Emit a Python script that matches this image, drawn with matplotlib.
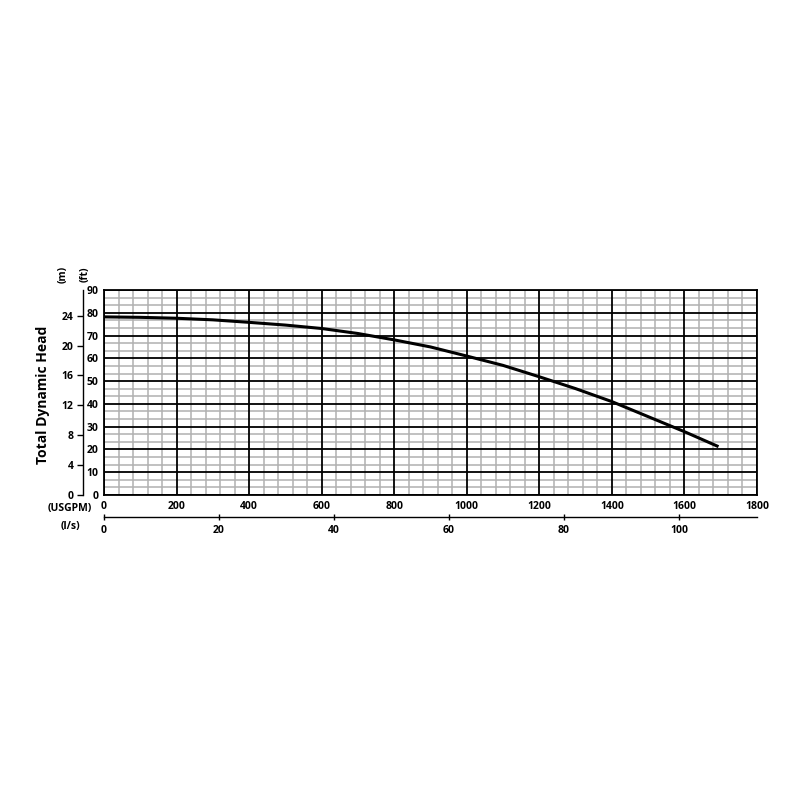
import numpy as np
import matplotlib
matplotlib.use("Agg")
import matplotlib.pyplot as plt
from matplotlib.ticker import FixedLocator

plt.rcParams['font.family'] = ['Open Sans', 'DejaVu Sans']
plt.rcParams['font.weight'] = 'bold'

# pump curve
flow_usgpm = [0, 100, 200, 300, 400, 500, 600, 700, 800, 900, 1000,
              1100, 1200, 1300, 1400, 1500, 1600, 1690]
head_ft = [78.2, 78.0, 77.6, 76.9, 75.8, 74.6, 73.1, 70.9, 68.1, 65.0, 61.0,
           56.9, 51.9, 46.7, 41.0, 34.4, 27.8, 21.5]

usgpm_ticks = [0, 200, 400, 600, 800, 1000, 1200, 1400, 1600, 1800]
ft_ticks = [0, 10, 20, 30, 40, 50, 60, 70, 80, 90]
m_ticks = [0, 4, 8, 12, 16, 20, 24]
lps_ticks = [0, 20, 40, 60, 80, 100]

FT_PER_M = 3.2808
GPM_PER_LPS = 15.850

fig = plt.figure(figsize=(8, 8), dpi=100)
ax = fig.add_axes([104/800, 1 - 495/800, 653/800, 205/800])

ax.set_xlim(0, 1800)
ax.set_ylim(0, 90)
ax.set_xticks(usgpm_ticks)
ax.set_yticks(ft_ticks)

# light grid between the major lines (5 per 200 USGPM, 3 per 10 ft)
x_minor = [x for x in range(0, 1801, 40) if x % 200 != 0]
y_minor = [i * 10 / 3 for i in range(28) if i % 3 != 0]
ax.xaxis.set_minor_locator(FixedLocator(x_minor))
ax.yaxis.set_minor_locator(FixedLocator(y_minor))
ax.grid(which='minor', color='#b0b0b0', lw=1.1)
ax.set_axisbelow(True)
# dark lines on top of the light grid
for x in usgpm_ticks:
    ax.axvline(x, color='black', lw=1.3, zorder=2)
for y in ft_ticks:
    ax.axhline(y, color='black', lw=1.3, zorder=2)

ax.tick_params(which='both', length=0)
ax.tick_params(axis='x', pad=4, labelsize=7.5)
ax.tick_params(axis='y', pad=4, labelsize=7.5)
for s in ax.spines.values():
    s.set_color('black')
    s.set_linewidth(1.3)

ax.plot(flow_usgpm, head_ft, color='black', lw=2.2, zorder=5)

# meters axis on the left
axm = ax.twinx()
axm.set_ylim(0, 90 / FT_PER_M)
axm.set_yticks(m_ticks)
axm.yaxis.set_ticks_position('left')
axm.yaxis.set_label_position('left')
axm.spines['left'].set_position(('axes', -21/653))
axm.spines['left'].set_linewidth(1.0)
for k in ['right', 'top', 'bottom']:
    axm.spines[k].set_visible(False)
axm.tick_params(axis='y', direction='out', length=4, width=1, pad=3, labelsize=7.5)

# l/s axis below
sec = ax.secondary_xaxis(-22/205, functions=(lambda x: x / GPM_PER_LPS,
                                             lambda x: x * GPM_PER_LPS))
sec.set_xticks(lps_ticks)
sec.spines['bottom'].set_linewidth(1.0)
sec.tick_params(axis='x', direction='inout', length=5, width=1, pad=3, labelsize=7.5)

fig.text(70/800, 1 - 508/800, '(USGPM)', ha='center', va='center', fontsize=7.5, fontweight='bold')
fig.text(70/800, 1 - 527/800, '(l/s)', ha='center', va='center', fontsize=7.5, fontweight='bold')
fig.text(63/800, 1 - 274/800, '(m)', ha='center', va='center', rotation=90, fontsize=7.5, fontweight='bold')
fig.text(85/800, 1 - 274/800, '(ft)', ha='center', va='center', rotation=90, fontsize=7.5, fontweight='bold')
fig.text(43/800, 1 - 395/800, 'Total Dynamic Head', ha='center', va='center', rotation=90,
         fontsize=10, fontweight='bold')

fig.savefig("out.png", dpi=100, facecolor='white')
